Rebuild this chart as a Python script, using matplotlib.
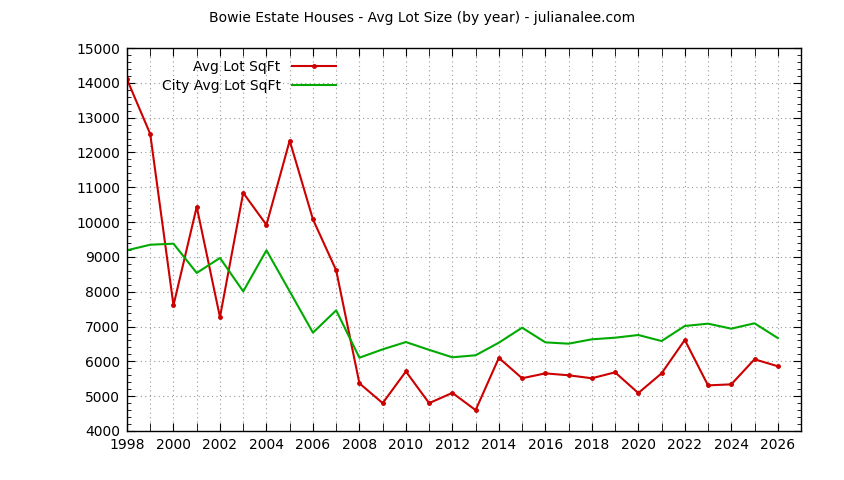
import numpy as np
import matplotlib
matplotlib.use("Agg")
import matplotlib.pyplot as plt
from matplotlib.ticker import MultipleLocator

# Годы и значения
years = list(range(1998, 2027))
avg_lot = [14100, 12530, 7610, 10440, 7270, 10840, 9920, 12340, 10080, 8615,
           5370, 4800, 5710, 4800, 5095, 4600, 6100, 5515, 5655, 5600,
           5515, 5685, 5090, 5655, 6615, 5310, 5340, 6060, 5860]
city_avg = [9190, 9350, 9380, 8540, 8970, 8010, 9190, 8010, 6825, 7465,
            6105, 6345, 6555, 6330, 6117, 6175, 6537, 6967, 6546, 6508,
            6633, 6680, 6757, 6584, 7016, 7083, 6939, 7093, 6670]

plt.rcParams['font.family'] = ['DejaVu Sans']
fig = plt.figure(figsize=(8.44, 4.8), dpi=100)
ax = fig.add_axes([127 / 844, 1 - 431 / 480, 674 / 844, 383 / 480])

ax.plot(years, avg_lot, color="#cc0000", lw=1.5, marker="o", ms=2.5,
        label="Avg Lot SqFt")
ax.plot(years, city_avg, color="#00aa00", lw=1.5, label="City Avg Lot SqFt")

ax.set_xlim(1998, 2027)
ax.set_ylim(4000, 15000)
ax.xaxis.set_major_locator(MultipleLocator(2))
ax.xaxis.set_minor_locator(MultipleLocator(1))
ax.yaxis.set_major_locator(MultipleLocator(1000))
ax.yaxis.set_minor_locator(MultipleLocator(200))
ax.tick_params(which="both", direction="in", top=True, right=True,
               labelsize=10, colors="black")
ax.tick_params(which="major", length=6, pad=5)
ax.tick_params(which="minor", length=3)
ax.tick_params(axis="x", which="minor", length=6)
ax.grid(True, which="major", axis="y", ls=(0, (1, 3)), color="#999999", lw=0.8)
ax.grid(True, which="both", axis="x", ls=(0, (1, 3)), color="#999999", lw=0.8)
for s in ax.spines.values():
    s.set_linewidth(1)

fig.text(0.5, 1 - 18 / 480, "Bowie Estate Houses - Avg Lot Size (by year) - julianalee.com",
         ha="center", va="center", fontsize=10)

ax.legend(loc="upper left", bbox_to_anchor=(0.037, 0.995), frameon=False,
          markerfirst=False, fontsize=10, handlelength=3.2,
          labelspacing=0.4, borderaxespad=0.3)

fig.savefig("out.png", dpi=100)
